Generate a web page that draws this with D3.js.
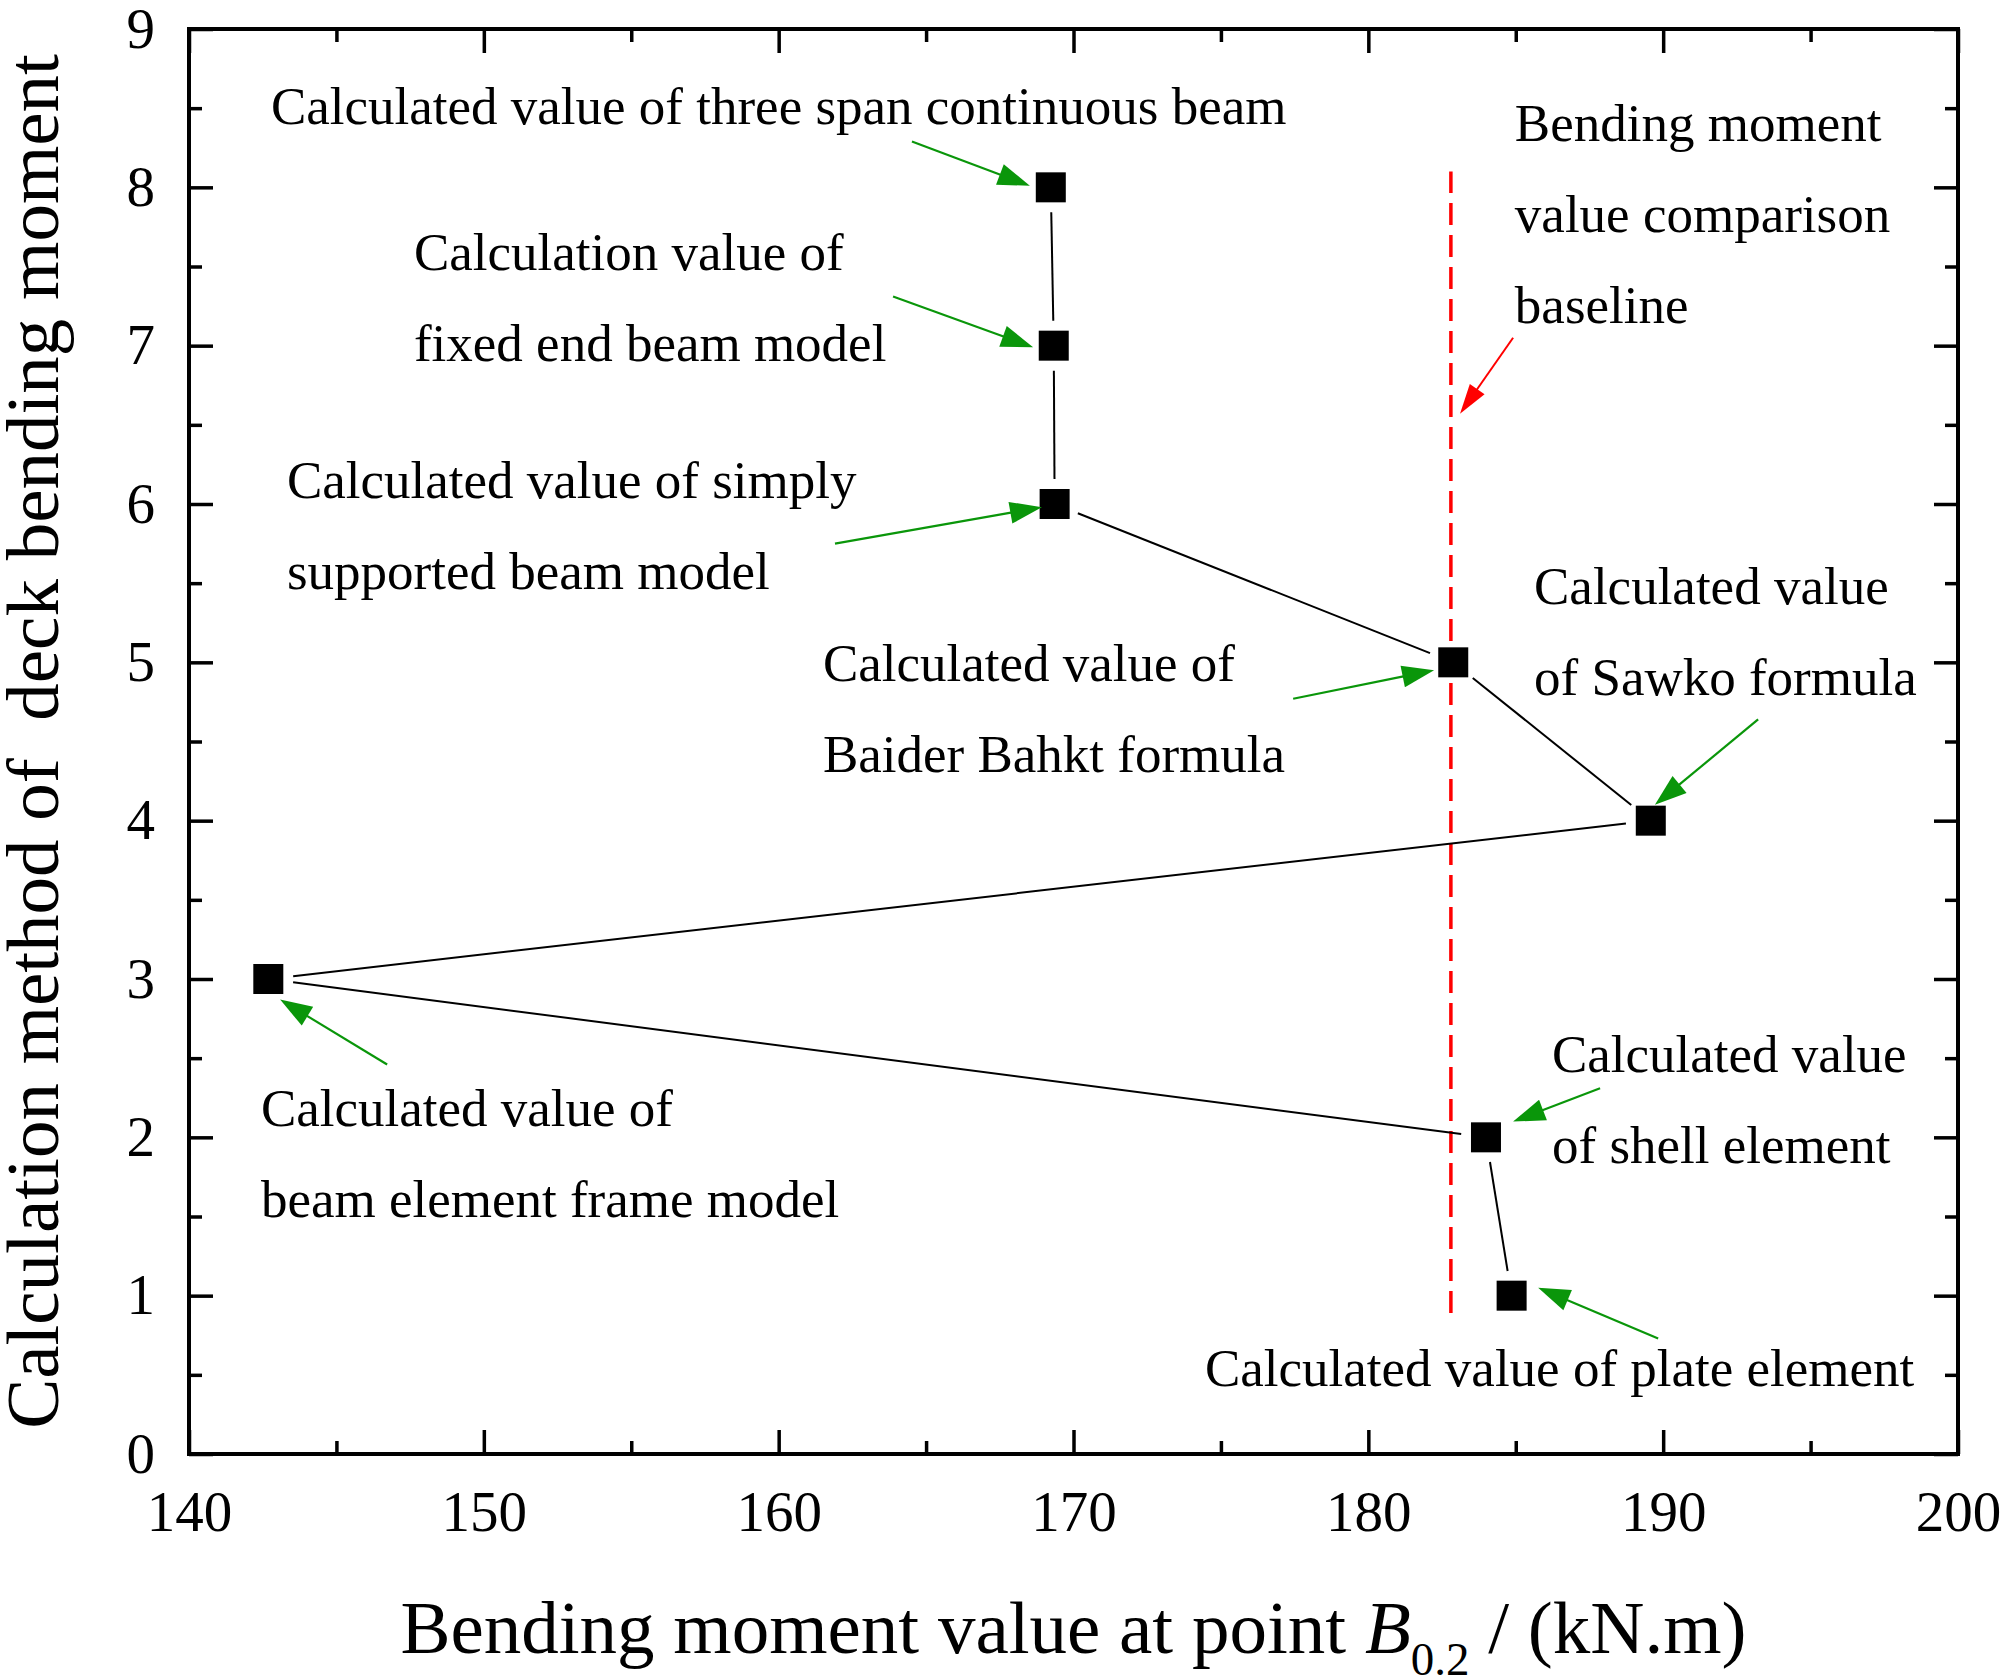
<!DOCTYPE html>
<html>
<head>
<meta charset="utf-8">
<script src="https://cdn.jsdelivr.net/npm/d3@7/dist/d3.min.js"></script>
<style>
  html, body { margin: 0; padding: 0; background: #fff; }
  svg { display: block; }
  text { font-family: "Liberation Serif", "Times New Roman", serif; fill: #000; }
</style>
</head>
<body>
<svg id="chart" width="2008" height="1677"></svg>
<script>
// ---------------- data ----------------
const methodIndex = [1, 2, 3, 4, 5, 6, 7, 8];
const momentValues = [184.86, 183.99, 142.69, 189.58, 182.88, 169.36, 169.33, 169.23];

const baselineValue = 182.8;
const baselineSpan = [0.89, 8.10];

const xDomain = [140, 200];
const yDomain = [0, 9];
const xMajorTicks = [140, 150, 160, 170, 180, 190, 200];
const xMinorTicks = [145, 155, 165, 175, 185, 195];
const yMajorTicks = [0, 1, 2, 3, 4, 5, 6, 7, 8, 9];
const yMinorTicks = [0.5, 1.5, 2.5, 3.5, 4.5, 5.5, 6.5, 7.5, 8.5];

const xTitleParts = ["Bending moment value at point ", "B", "0.2", " / (kN.m)"];
const yTitle = "Calculation method of  deck bending moment";

// annotation texts (anchored in data coordinates)
const noteLines = [
  ["Calculated value of three span continuous beam"],
  ["Calculation value of", "fixed end beam model"],
  ["Calculated value of simply", "supported beam model"],
  ["Calculated value of", "Baider Bahkt formula"],
  ["Calculated value", "of Sawko formula"],
  ["Calculated value of", "beam element frame model"],
  ["Calculated value", "of shell element"],
  ["Calculated value of plate element"],
  ["Bending moment", "value comparison", "baseline"]
];
const noteX = [142.78, 147.63, 143.32, 161.50, 185.62, 142.44, 186.23, 174.46, 184.97];
const noteY = [8.40, 7.48, 6.04, 4.88, 5.37, 2.07, 2.41, 0.43, 8.29];

// green pointer arrows: start -> tip (data coordinates)
const arrowFromX = [164.52, 163.88, 161.91, 177.45, 193.22, 146.72, 187.86, 189.83];
const arrowFromY = [8.29, 7.31, 5.75, 4.77, 4.64, 2.46, 2.31, 0.73];
const arrowToX   = [168.52, 168.63, 168.93, 182.23, 189.72, 143.09, 184.91, 185.76];
const arrowToY   = [8.01, 6.99, 5.98, 4.95, 4.10, 2.87, 2.10, 1.05];

// red pointer arrow to baseline
const redArrowFrom = [184.91, 7.05];
const redArrowTo = [183.11, 6.57];

// ---------------- layout ----------------
const svg = d3.select("#chart");
const L = 189, T = 29, W = 1769, H = 1425;
const x = d3.scaleLinear().domain(xDomain).range([L, L + W]);
const y = d3.scaleLinear().domain(yDomain).range([T + H, T]);

const tickFont = 57;
const majorLen = 24, minorLen = 13;

// ---------------- axes ----------------
function styleAxis(g) {
  g.select(".domain").remove();
  g.selectAll(".tick line").attr("stroke", "#000").attr("stroke-width", 3.5);
  g.selectAll(".tick text").attr("font-size", tickFont).attr("font-family", "Liberation Serif").attr("fill", "#000");
}

// bottom
svg.append("g").attr("transform", `translate(0,${T + H})`)
  .call(d3.axisBottom(x).tickValues(xMajorTicks).tickFormat(d3.format("d")).tickSize(-majorLen).tickPadding(37))
  .call(styleAxis);
svg.append("g").attr("transform", `translate(0,${T + H})`)
  .call(d3.axisBottom(x).tickValues(xMinorTicks).tickFormat("").tickSize(-minorLen))
  .call(styleAxis);
// top
svg.append("g").attr("transform", `translate(0,${T})`)
  .call(d3.axisTop(x).tickValues(xMajorTicks).tickFormat("").tickSize(-majorLen))
  .call(styleAxis);
svg.append("g").attr("transform", `translate(0,${T})`)
  .call(d3.axisTop(x).tickValues(xMinorTicks).tickFormat("").tickSize(-minorLen))
  .call(styleAxis);
// left
svg.append("g").attr("transform", `translate(${L},0)`)
  .call(d3.axisLeft(y).tickValues(yMajorTicks).tickFormat(d3.format("d")).tickSize(-majorLen).tickPadding(34))
  .call(styleAxis);
svg.append("g").attr("transform", `translate(${L},0)`)
  .call(d3.axisLeft(y).tickValues(yMinorTicks).tickFormat("").tickSize(-minorLen))
  .call(styleAxis);
// right
svg.append("g").attr("transform", `translate(${L + W},0)`)
  .call(d3.axisRight(y).tickValues(yMajorTicks).tickFormat("").tickSize(-majorLen))
  .call(styleAxis);
svg.append("g").attr("transform", `translate(${L + W},0)`)
  .call(d3.axisRight(y).tickValues(yMinorTicks).tickFormat("").tickSize(-minorLen))
  .call(styleAxis);

// frame
svg.append("rect").attr("x", L).attr("y", T).attr("width", W).attr("height", H)
  .attr("fill", "none").attr("stroke", "#000").attr("stroke-width", 4);

// ---------------- axis titles ----------------
const xt = svg.append("text")
  .attr("x", L + W / 2).attr("y", 1653)
  .attr("text-anchor", "middle").attr("font-size", 75)
  .style("white-space", "pre");
xt.append("tspan").text(xTitleParts[0]);
xt.append("tspan").attr("font-style", "italic").text(xTitleParts[1]);
xt.append("tspan").attr("font-size", 47).attr("dy", 22).text(xTitleParts[2]);
xt.append("tspan").attr("dy", -22).text(xTitleParts[3]);

svg.append("text")
  .attr("transform", `translate(58,${T + H / 2}) rotate(-90)`)
  .attr("text-anchor", "middle").attr("font-size", 75)
  .style("white-space", "pre")
  .text(yTitle);

// ---------------- baseline ----------------
svg.append("line")
  .attr("x1", x(baselineValue)).attr("x2", x(baselineValue))
  .attr("y1", y(baselineSpan[0])).attr("y2", y(baselineSpan[1]))
  .attr("stroke", "#ff0000").attr("stroke-width", 3.5)
  .attr("stroke-dasharray", "22,10");

// ---------------- connecting line (with gaps near markers) ----------------
const pts = methodIndex.map((m, i) => [x(momentValues[i]), y(m)]);
const gap = 25;
const segG = svg.append("g");
for (let i = 0; i < pts.length - 1; i++) {
  const [x0, y0] = pts[i], [x1, y1] = pts[i + 1];
  const dx = x1 - x0, dy = y1 - y0, len = Math.hypot(dx, dy);
  const ux = dx / len, uy = dy / len;
  segG.append("line")
    .attr("x1", x0 + ux * gap).attr("y1", y0 + uy * gap)
    .attr("x2", x1 - ux * gap).attr("y2", y1 - uy * gap)
    .attr("stroke", "#000").attr("stroke-width", 2);
}

// ---------------- markers ----------------
const ms = 30;
svg.append("g").selectAll("rect").data(methodIndex).join("rect")
  .attr("x", (d, i) => x(momentValues[i]) - ms / 2)
  .attr("y", d => y(d) - ms / 2)
  .attr("width", ms).attr("height", ms)
  .attr("fill", "#000");

// ---------------- arrows ----------------
function drawArrow(g, sx, sy, tx, ty, color, lw, headLen, headW) {
  const p0 = [x(sx), y(sy)], p1 = [x(tx), y(ty)];
  const dx = p1[0] - p0[0], dy = p1[1] - p0[1], len = Math.hypot(dx, dy);
  const ux = dx / len, uy = dy / len;
  const bx = p1[0] - ux * headLen, by = p1[1] - uy * headLen;
  g.append("line").attr("x1", p0[0]).attr("y1", p0[1]).attr("x2", bx + ux * 2).attr("y2", by + uy * 2)
    .attr("stroke", color).attr("stroke-width", lw);
  const nx = -uy, ny = ux;
  g.append("polygon")
    .attr("points", [
      [p1[0], p1[1]],
      [bx + nx * headW / 2, by + ny * headW / 2],
      [bx - nx * headW / 2, by - ny * headW / 2]
    ].map(p => p.join(",")).join(" "))
    .attr("fill", color);
}
const arrowG = svg.append("g");
arrowFromX.forEach((d, i) => {
  drawArrow(arrowG, arrowFromX[i], arrowFromY[i], arrowToX[i], arrowToY[i], "#0a960a", 2.2, 32, 22);
});
drawArrow(arrowG, redArrowFrom[0], redArrowFrom[1], redArrowTo[0], redArrowTo[1], "#ff0000", 2, 30, 18);

// ---------------- annotation text ----------------
const noteG = svg.append("g");
noteLines.forEach((lines, i) => {
  const t = noteG.append("text")
    .attr("x", x(noteX[i])).attr("y", y(noteY[i]))
    .attr("font-size", 53);
  lines.forEach((ln, j) => {
    t.append("tspan").attr("x", x(noteX[i])).attr("dy", j === 0 ? 0 : 91).text(ln);
  });
});
</script>
</body>
</html>
